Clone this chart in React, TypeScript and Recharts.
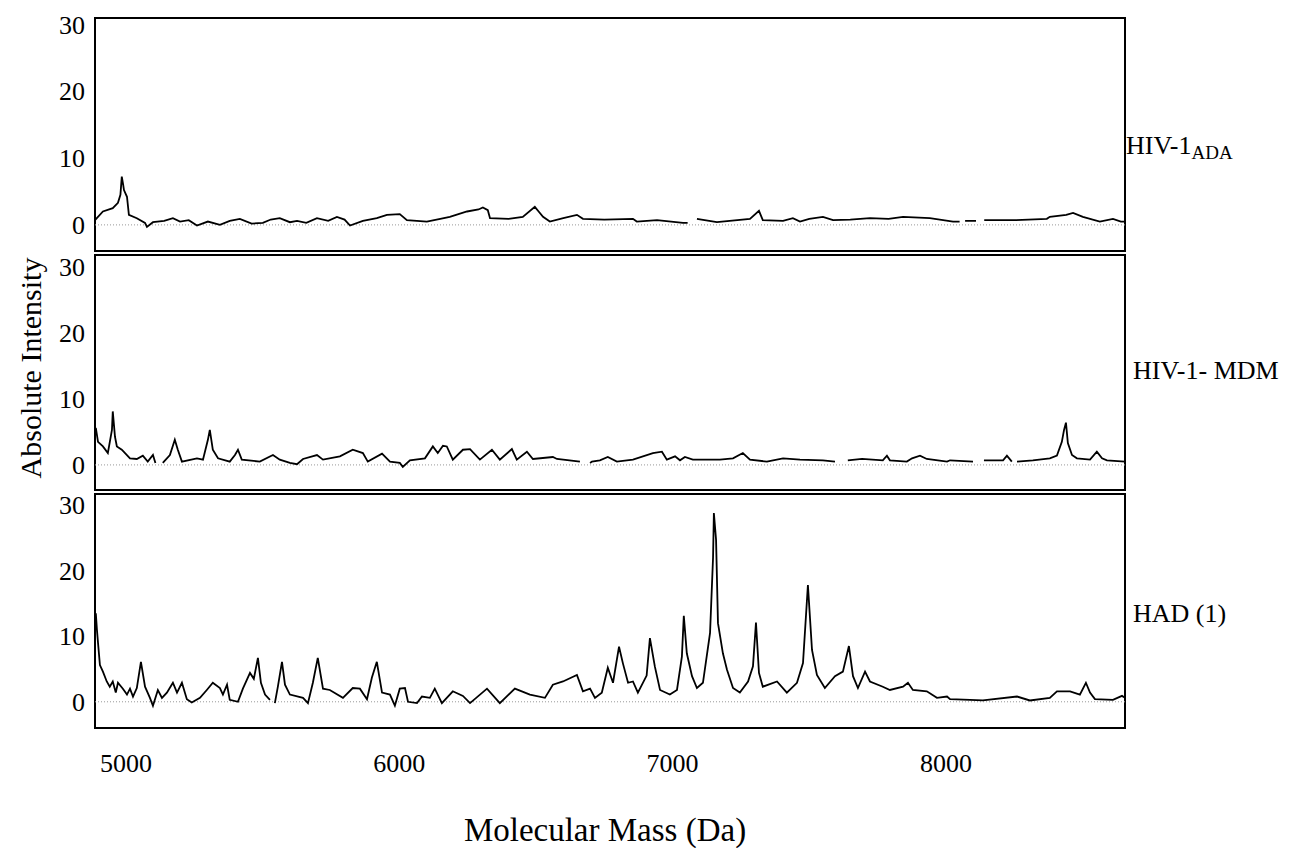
import { LineChart, Line, XAxis, YAxis, ReferenceLine, ReferenceArea } from 'recharts';

const FONT = "'Liberation Serif', 'Times New Roman', serif";

// mass range shown on the x axis (Da)
const X_MIN = 4887;
const X_MAX = 8655;
const massTicks = [5000, 6000, 7000, 8000];
const intensityTicks = [0, 10, 20, 30];

// [mass (Da), absolute intensity]; null = gap in the trace
const adaSpectrum: [number, number | null][] = [
  [4887, 0.7], [4916, 2.0], [4952, 2.5], [4971, 3.3], [4980, 4.5], [4985, 7.2], [4990, 6.0],
  [4993, 5.2], [5004, 4.2], [5011, 1.5], [5040, 1.0], [5070, 0.3], [5077, -0.3], [5099, 0.4],
  [5140, 0.6], [5172, 1.0], [5198, 0.5], [5230, 0.7], [5260, -0.1], [5300, 0.5], [5344, 0],
  [5380, 0.6], [5417, 0.9], [5460, 0.2], [5501, 0.3], [5530, 0.8], [5563, 1.0], [5600, 0.4],
  [5626, 0.6], [5660, 0.3], [5699, 1.0], [5740, 0.6], [5772, 1.2], [5800, 0.8], [5820, -0.1],
  [5867, 0.6], [5918, 1.0], [5955, 1.5], [6002, 1.6], [6028, 0.7], [6101, 0.5], [6150, 0.9],
  [6185, 1.2], [6248, 2.0], [6290, 2.3], [6306, 2.6], [6324, 2.2], [6332, 1.0], [6400, 0.9],
  [6452, 1.2], [6496, 2.7], [6510, 2.0], [6526, 1.2], [6551, 0.5], [6600, 1.0], [6650, 1.5],
  [6672, 0.9], [6750, 0.8], [6855, 0.9], [6869, 0.5], [6943, 0.7], [7038, 0.3], [7055, 0.3],
  [7063, null], [7089, 0.9], [7162, 0.4], [7283, 0.9], [7316, 2.1], [7330, 0.7], [7404, 0.6],
  [7440, 1.0], [7466, 0.5], [7500, 0.9], [7550, 1.2], [7587, 0.7], [7650, 0.8], [7722, 1.0],
  [7790, 0.9], [7843, 1.2], [7941, 1.0], [8026, 0.5], [8050, 0.5], [8058, null], [8070, 0.6],
  [8110, 0.6], [8124, null], [8140, 0.7], [8250, 0.7], [8369, 0.9], [8380, 1.2], [8440, 1.5],
  [8465, 1.8], [8501, 1.2], [8563, 0.5], [8611, 0.9], [8640, 0.5], [8655, 0.5],
];

const mdmSpectrum: [number, number | null][] = [
  [4890, 5.6], [4898, 3.5], [4916, 2.8], [4934, 1.8], [4949, 5.3], [4952, 8.1], [4960, 4.3],
  [4967, 2.8], [4985, 2.3], [5015, 1.0], [5040, 0.9], [5062, 1.4], [5080, 0.5], [5099, 1.5],
  [5108, 0.3], [5112, null], [5135, 0.3], [5161, 1.5], [5179, 3.8], [5190, 2.3], [5205, 0.5],
  [5260, 1.0], [5282, 0.8], [5300, 3.8], [5307, 5.3], [5318, 2.3], [5337, 1.0], [5380, 0.5],
  [5399, 1.5], [5410, 2.3], [5424, 0.8], [5490, 0.5], [5538, 1.5], [5563, 0.8], [5600, 0.3],
  [5626, 0.1], [5648, 0.9], [5699, 1.5], [5721, 0.8], [5783, 1.3], [5830, 2.3], [5867, 1.8],
  [5885, 0.5], [5937, 1.7], [5966, 0.5], [6002, 0.3], [6013, -0.3], [6039, 0.7], [6094, 1.0],
  [6123, 2.8], [6141, 1.8], [6160, 2.9], [6174, 2.8], [6196, 0.8], [6233, 2.3], [6259, 2.4],
  [6295, 0.8], [6339, 2.3], [6368, 0.8], [6412, 2.4], [6430, 0.8], [6467, 2.0], [6489, 0.9],
  [6562, 1.2], [6577, 0.9], [6661, 0.5], [6668, null], [6698, 0.3], [6705, 0.5], [6734, 0.7],
  [6763, 1.2], [6796, 0.5], [6855, 0.8], [6928, 1.8], [6961, 2.0], [6979, 0.8], [7009, 1.3],
  [7027, 0.7], [7045, 1.2], [7074, 0.8], [7173, 0.8], [7221, 1.0], [7257, 1.8], [7283, 0.8],
  [7345, 0.5], [7404, 1.0], [7466, 0.8], [7550, 0.7], [7594, 0.5], [7610, null], [7641, 0.7],
  [7693, 0.9], [7769, 0.7], [7784, 1.4], [7795, 0.7], [7857, 0.5], [7876, 1.0], [7905, 1.4],
  [7930, 0.9], [8004, 0.5], [8015, 0.7], [8099, 0.5], [8115, null], [8139, 0.7], [8209, 0.7],
  [8223, 1.4], [8241, 0.5], [8250, null], [8260, 0.5], [8318, 0.7], [8380, 1.0], [8406, 1.4],
  [8424, 3.5], [8432, 5.3], [8439, 6.4], [8446, 3.3], [8461, 1.5], [8479, 1.0], [8527, 0.8],
  [8552, 2.0], [8571, 1.0], [8589, 0.7], [8655, 0.5],
];

const hadSpectrum: [number, number | null][] = [
  [4890, 13.5], [4894, 11], [4898, 9.0], [4905, 5.6], [4916, 4.6], [4930, 3.1], [4941, 2.3],
  [4952, 3.1], [4963, 1.4], [4971, 2.9], [4989, 2.0], [5004, 1.1], [5015, 2.0], [5026, 0.8],
  [5040, 2.1], [5055, 6.1], [5070, 2.3], [5088, 0.6], [5099, -0.6], [5117, 1.8], [5132, 0.6],
  [5150, 1.4], [5172, 2.9], [5187, 1.4], [5205, 2.9], [5223, 0.4], [5241, -0.1], [5271, 0.6],
  [5296, 1.8], [5318, 2.9], [5344, 2.1], [5355, 1.1], [5370, 2.6], [5380, 0.3], [5410, 0],
  [5428, 2.0], [5454, 4.4], [5468, 3.5], [5483, 6.7], [5494, 2.9], [5509, 1.1], [5527, 0.3],
  [5535, null], [5545, -0.2], [5556, 2.3], [5571, 6.1], [5582, 2.6], [5600, 1.1], [5648, 0.6],
  [5666, -0.2], [5684, 2.9], [5702, 6.7], [5721, 2.0], [5746, 1.8], [5794, 0.6], [5830, 2.1],
  [5856, 2.0], [5882, 0.4], [5900, 3.7], [5918, 6.1], [5937, 1.4], [5966, 1.1], [5984, -0.6],
  [6002, 2.0], [6021, 2.1], [6032, 0], [6065, -0.2], [6083, 0.8], [6112, 0.6], [6130, 2.0],
  [6156, -0.2], [6196, 1.6], [6233, 0.9], [6259, -0.2], [6321, 2.0], [6368, -0.2], [6423, 2.0],
  [6478, 1.1], [6533, 0.6], [6562, 2.6], [6599, 3.1], [6650, 4.1], [6672, 1.6], [6698, 2.0],
  [6716, 0.6], [6741, 1.4], [6763, 5.2], [6782, 2.9], [6804, 8.4], [6818, 5.9], [6837, 2.9],
  [6855, 3.1], [6873, 1.4], [6905, 4.0], [6917, 9.7], [6935, 5.4], [6954, 1.8], [6990, 1.1],
  [7016, 1.8], [7034, 6.9], [7041, 13.1], [7052, 7.4], [7071, 3.9], [7089, 2.1], [7111, 2.9],
  [7137, 10.5], [7148, 22], [7151, 28.8], [7159, 24.7], [7166, 12], [7184, 7.4], [7199, 4.9],
  [7221, 2.1], [7246, 1.4], [7276, 3.1], [7294, 5.4], [7305, 12.1], [7316, 4.4], [7330, 2.3],
  [7382, 3.1], [7418, 1.4], [7455, 2.9], [7477, 5.9], [7495, 17.8], [7510, 7.9], [7528, 4.1],
  [7557, 2.1], [7594, 3.9], [7623, 4.6], [7645, 8.5], [7660, 3.9], [7678, 2.1], [7704, 4.6],
  [7722, 3.1], [7769, 2.3], [7795, 1.8], [7843, 2.3], [7861, 2.9], [7879, 1.8], [7930, 1.6],
  [7967, 0.6], [8004, 0.8], [8015, 0.4], [8088, 0.3], [8135, 0.2], [8260, 0.8], [8307, 0.2],
  [8380, 0.6], [8406, 1.6], [8454, 1.6], [8490, 1.1], [8512, 2.9], [8527, 1.4], [8545, 0.4],
  [8611, 0.3], [8644, 0.9], [8655, 0.6],
];

const toRows = (pairs: [number, number | null][]) => pairs.map(([mass, v]) => ({ mass, v }));

const tickStyle = { fontSize: 26, fill: '#000', fontFamily: FONT };

interface PanelProps {
  spectrum: [number, number | null][];
  boxTop: number;
  boxBottom: number;
  yDomain: [number, number];
  showX?: boolean;
}

function Panel({ spectrum, boxTop, boxBottom, yDomain, showX }: PanelProps) {
  const pad = 8;
  const xAxisH = 70;
  const height = boxBottom - boxTop + pad + (showX ? xAxisH : pad);
  return (
    <div style={{ position: 'absolute', left: 0, top: boxTop - pad }}>
      <LineChart
        width={1293}
        height={height}
        data={toRows(spectrum)}
        margin={{ top: pad, right: 168, left: 0, bottom: showX ? 0 : pad }}
      >
        <XAxis
          type="number"
          dataKey="mass"
          domain={[X_MIN, X_MAX]}
          allowDataOverflow
          ticks={massTicks}
          hide={!showX}
          height={xAxisH}
          axisLine={false}
          tickLine={false}
          tickSize={0}
          tickMargin={26}
          tick={tickStyle}
        />
        <YAxis
          type="number"
          domain={yDomain}
          allowDataOverflow
          ticks={intensityTicks}
          width={95}
          axisLine={false}
          tickLine={false}
          tickSize={0}
          tickMargin={10}
          tick={tickStyle}
        />
        <ReferenceLine y={0} stroke="#999" strokeDasharray="1 2" strokeWidth={1} />
        <Line
          type="linear"
          dataKey="v"
          stroke="#000"
          strokeWidth={1.8}
          dot={false}
          connectNulls={false}
          isAnimationActive={false}
        />
        <ReferenceArea
          x1={X_MIN}
          x2={X_MAX}
          y1={yDomain[0]}
          y2={yDomain[1]}
          fill="none"
          stroke="#000"
          strokeWidth={2}
        />
      </LineChart>
    </div>
  );
}

export default function App() {
  const labelStyle = {
    position: 'absolute' as const,
    fontFamily: FONT,
    fontSize: 26,
    lineHeight: '26px',
    color: '#000',
    whiteSpace: 'nowrap' as const,
  };
  return (
    <div style={{ position: 'absolute', left: 0, top: 0, width: 1293, height: 848, background: '#fff' }}>
      <Panel spectrum={adaSpectrum} boxTop={18} boxBottom={251} yDomain={[-3.9, 30.9]} />
      <Panel spectrum={mdmSpectrum} boxTop={255} boxBottom={490} yDomain={[-3.8, 31.8]} />
      <Panel spectrum={hadSpectrum} boxTop={494} boxBottom={728} yDomain={[-4.0, 31.7]} showX />

      <div style={{ ...labelStyle, left: 1126, top: 133 }}>
        HIV-1<span style={{ fontSize: 19, position: 'relative', top: 5 }}>ADA</span>
      </div>
      <div style={{ ...labelStyle, left: 1133, top: 358 }}>HIV-1- MDM</div>
      <div style={{ ...labelStyle, left: 1133, top: 601 }}>HAD (1)</div>

      <div
        style={{
          position: 'absolute',
          left: 31,
          top: 368,
          transform: 'translate(-50%, -50%) rotate(-90deg)',
          fontFamily: FONT,
          fontSize: 30,
          whiteSpace: 'nowrap',
        }}
      >
        Absolute Intensity
      </div>
      <div
        style={{
          position: 'absolute',
          left: 605,
          top: 830,
          transform: 'translate(-50%, -50%)',
          fontFamily: FONT,
          fontSize: 33,
          whiteSpace: 'nowrap',
        }}
      >
        Molecular Mass (Da)
      </div>
    </div>
  );
}
